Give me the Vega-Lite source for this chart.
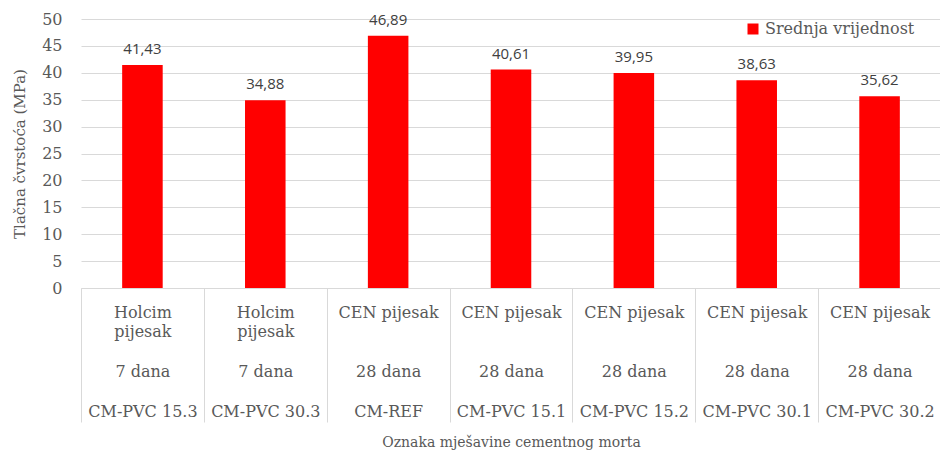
{
  "$schema": "https://vega.github.io/schema/vega-lite/v6.json",
  "width": 860,
  "height": 269,
  "autosize": {"type": "none"},
  "padding": {"left": 81, "top": 19, "right": 0, "bottom": 165},
  "background": "white",
  "config": {
    "locale": {"number": {"decimal": ",", "thousands": ".", "grouping": [3], "currency": ["", " €"]}},
    "view": {"stroke": null}
  },
  "data": {
    "values": [
      {"label": "Holcim|pijesak|\u2800|7 dana|\u2800|CM-PVC 15.3", "value": 41.43, "series": "Srednja vrijednost"},
      {"label": "Holcim|pijesak|\u2800|7 dana|\u2800|CM-PVC 30.3", "value": 34.88, "series": "Srednja vrijednost"},
      {"label": "CEN pijesak|\u2800|\u2800|28 dana|\u2800|CM-REF", "value": 46.89, "series": "Srednja vrijednost"},
      {"label": "CEN pijesak|\u2800|\u2800|28 dana|\u2800|CM-PVC 15.1", "value": 40.61, "series": "Srednja vrijednost"},
      {"label": "CEN pijesak|\u2800|\u2800|28 dana|\u2800|CM-PVC 15.2", "value": 39.95, "series": "Srednja vrijednost"},
      {"label": "CEN pijesak|\u2800|\u2800|28 dana|\u2800|CM-PVC 30.1", "value": 38.63, "series": "Srednja vrijednost"},
      {"label": "CEN pijesak|\u2800|\u2800|28 dana|\u2800|CM-PVC 30.2", "value": 35.62, "series": "Srednja vrijednost"}
    ]
  },
  "encoding": {
    "x": {
      "field": "label",
      "type": "nominal",
      "sort": null,
      "scale": {"paddingInner": 0, "paddingOuter": 0},
      "axis": {
        "title": "Oznaka mješavine cementnog morta",
        "titleFont": "DejaVu Serif",
        "titleFontSize": 14,
        "titleFontWeight": "normal",
        "titleColor": "#595959",
        "titlePadding": 13,
        "domain": true,
        "domainColor": "#d9d9d9",
        "ticks": true,
        "tickBand": "extent",
        "tickSize": 134,
        "tickColor": "#d9d9d9",
        "labelExpr": "split(datum.label, '|')",
        "labelLineHeight": 19.8,
        "labelPadding": -118,
        "labelBaseline": "top",
        "labelAngle": 0,
        "labelFont": "DejaVu Serif",
        "labelFontSize": 16,
        "labelColor": "#595959",
        "labelOverlap": false,
        "labelBound": false
      }
    },
    "y": {
      "field": "value",
      "type": "quantitative",
      "scale": {"domain": [0, 50]},
      "axis": {
        "title": "Tlačna čvrstoća (MPa)",
        "titleFont": "DejaVu Serif",
        "titleFontSize": 15,
        "titleFontWeight": "normal",
        "titleColor": "#595959",
        "titlePadding": 14,
        "values": [0, 5, 10, 15, 20, 25, 30, 35, 40, 45, 50],
        "grid": true,
        "gridColor": "#d9d9d9",
        "domain": false,
        "ticks": false,
        "labelPadding": 19,
        "labelFont": "DejaVu Serif",
        "labelFontSize": 16,
        "labelColor": "#595959"
      }
    }
  },
  "layer": [
    {
      "mark": {"type": "bar", "color": "#ff0000", "width": {"band": 0.33}},
      "encoding": {
        "color": {
          "field": "series",
          "type": "nominal",
          "scale": {"range": ["#ff0000"]},
          "legend": {
            "title": null,
            "orient": "none",
            "legendX": 664,
            "legendY": 2,
            "symbolType": "square",
            "symbolSize": 121,
            "symbolOpacity": 1,
            "symbolStrokeWidth": 0,
            "labelFont": "DejaVu Serif",
            "labelFontSize": 16,
            "labelColor": "#595959",
            "labelOffset": 4
          }
        }
      }
    },
    {
      "mark": {"type": "text", "baseline": "bottom", "dy": -8, "font": "Open Sans", "fontSize": 15, "color": "#404040"},
      "encoding": {
        "text": {"field": "value", "type": "quantitative", "format": ".2f"}
      }
    }
  ]
}
